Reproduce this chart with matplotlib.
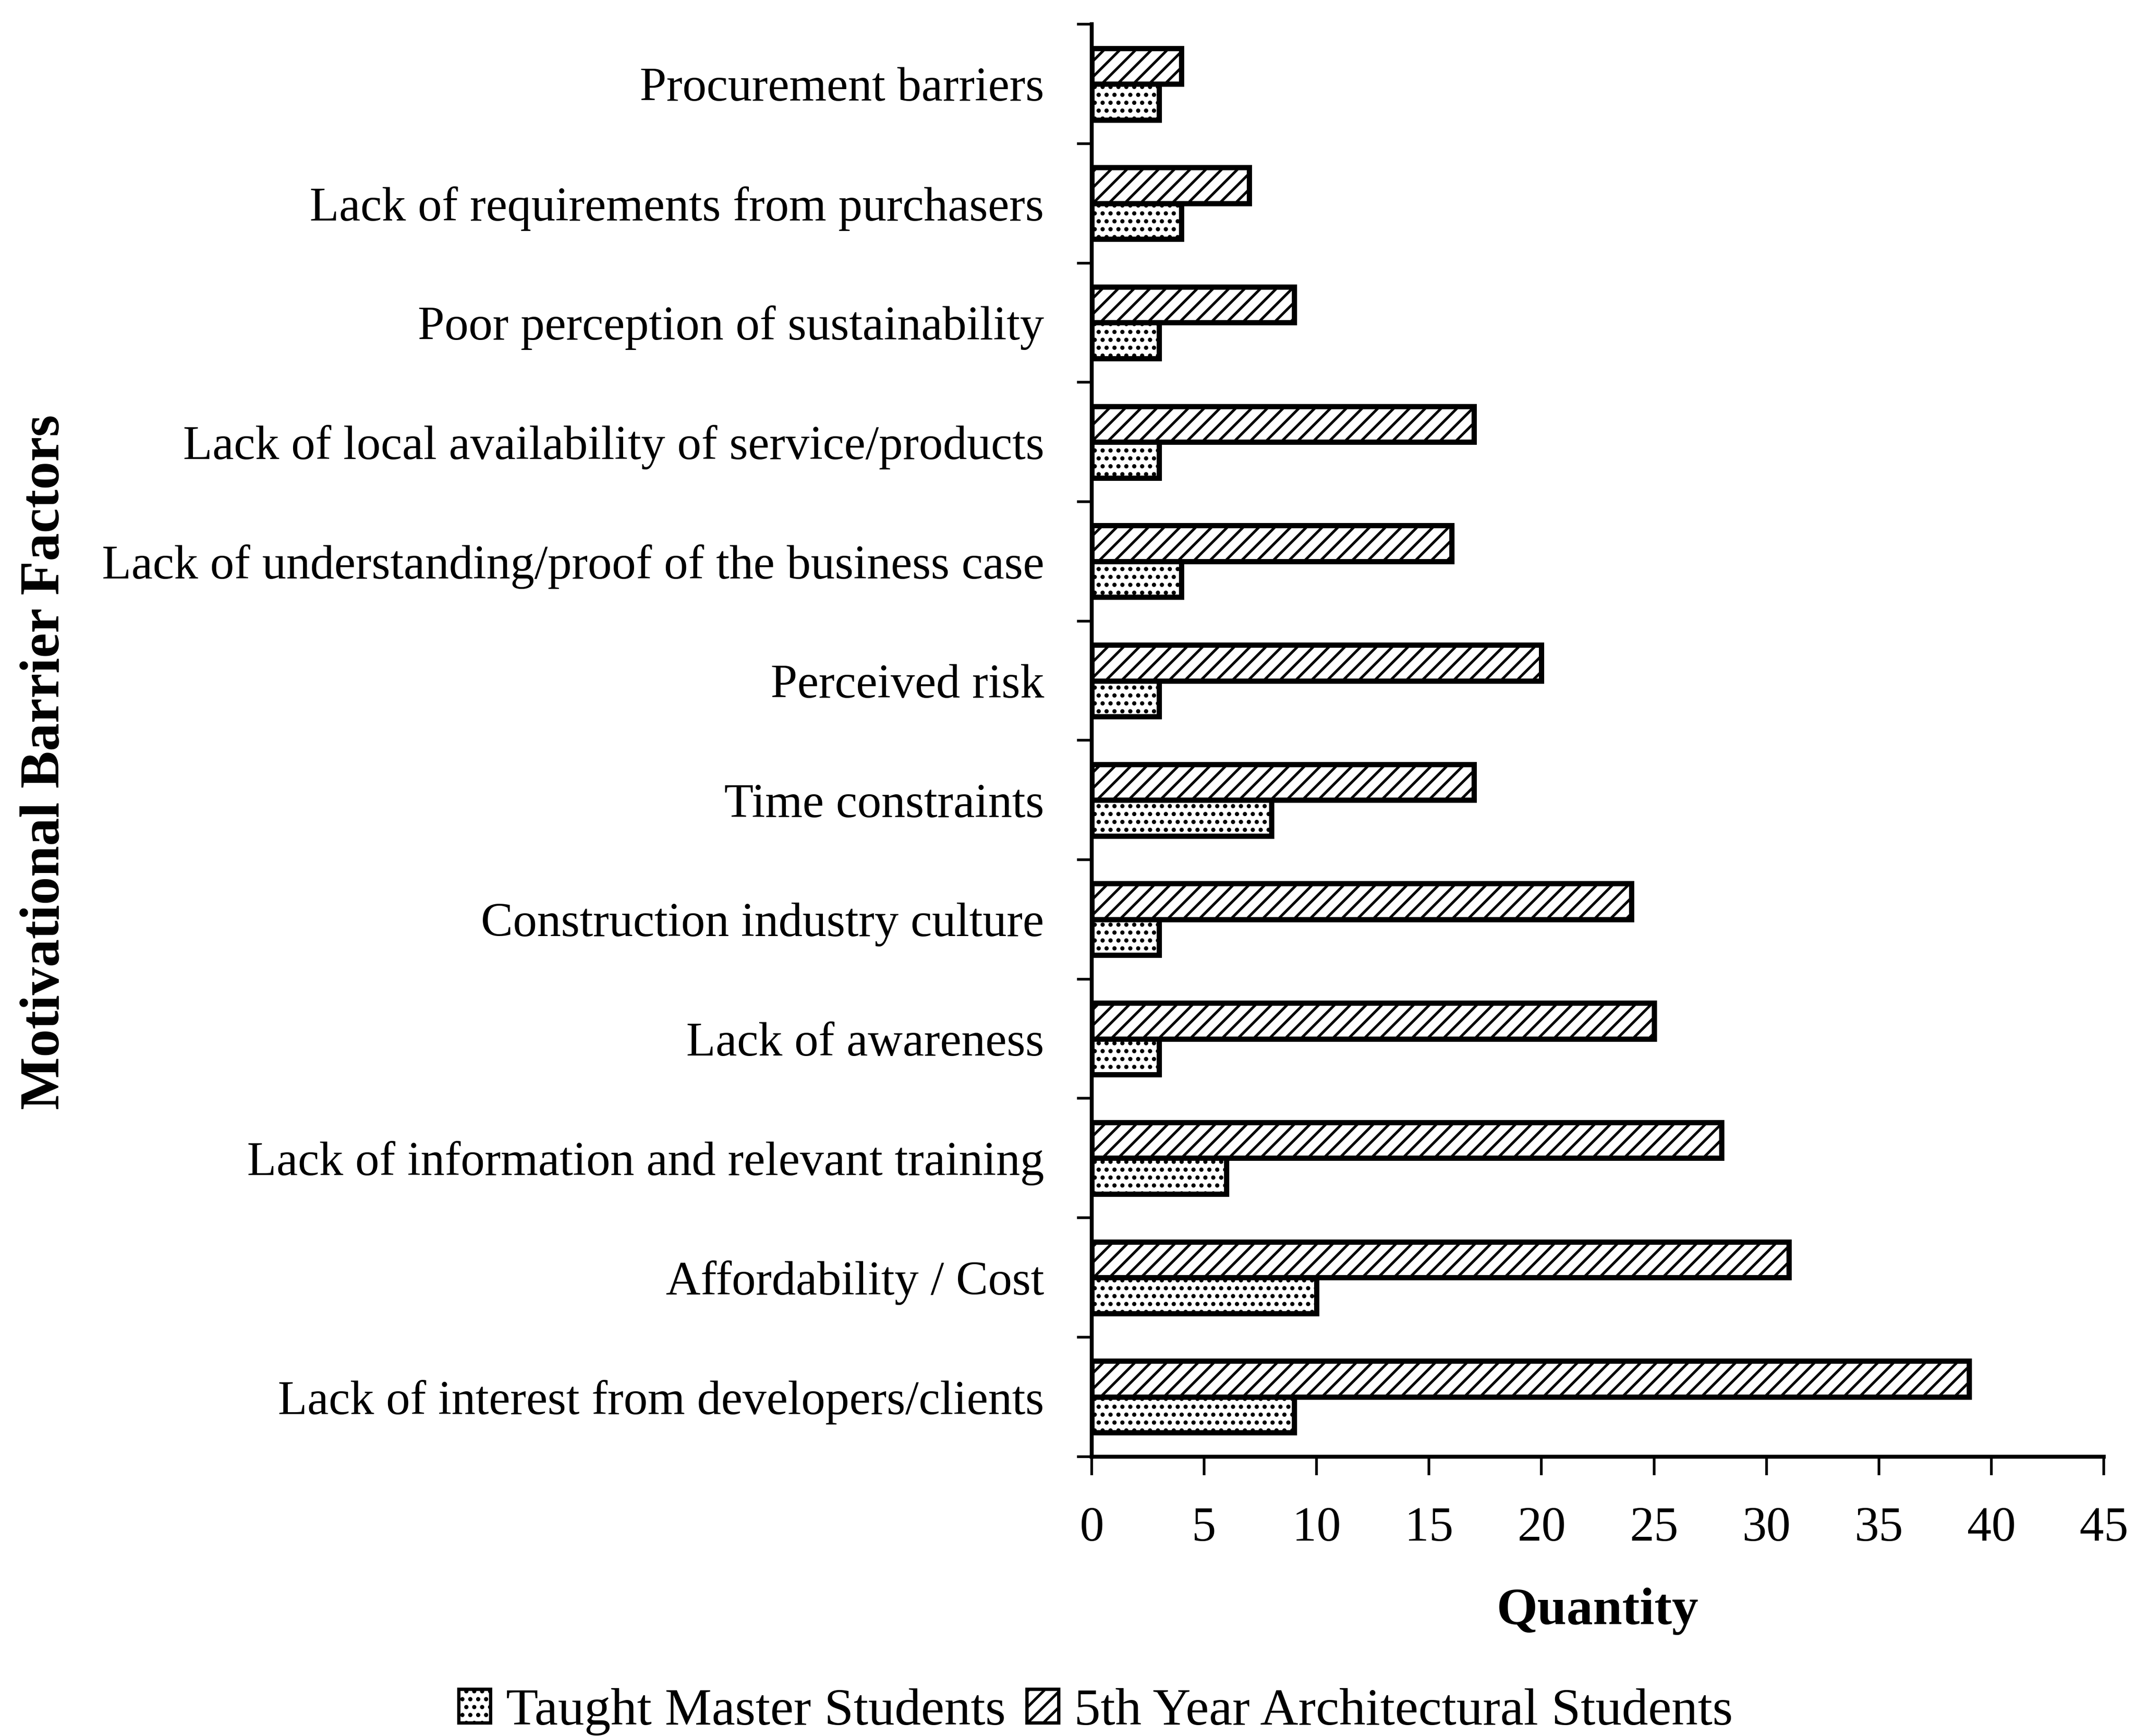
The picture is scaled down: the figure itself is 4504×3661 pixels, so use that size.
import matplotlib
matplotlib.use("Agg")
import matplotlib.pyplot as plt
import numpy as np
from matplotlib.patches import Patch

# Barrier factors, listed top to bottom as they appear on the chart
factors = [
    "Procurement barriers",
    "Lack of requirements from purchasers",
    "Poor perception of sustainability",
    "Lack of local availability of service/products",
    "Lack of understanding/proof of the business case",
    "Perceived risk",
    "Time constraints",
    "Construction industry culture",
    "Lack of awareness",
    "Lack of information and relevant training",
    "Affordability / Cost",
    "Lack of interest from developers/clients",
]
architectural_5th_year = [4, 7, 9, 17, 16, 20, 17, 24, 25, 28, 31, 39]
taught_master = [3, 4, 3, 3, 4, 3, 8, 3, 3, 6, 10, 9]
x_ticks = [0, 5, 10, 15, 20, 25, 30, 35, 40, 45]

series_labels = ["Taught Master Students", "5th Year Architectural Students"]

plt.rcParams["font.family"] = ["Liberation Serif", "DejaVu Serif"]
plt.rcParams["hatch.linewidth"] = 4.0
plt.rcParams["hatch.color"] = "black"

fig = plt.figure(figsize=(45.04, 36.61), dpi=100)
ax = fig.add_axes([0.511, 0.161, 0.474, 0.825])

y = np.arange(len(factors))
bar_h = 0.3
edge_lw = 8

ax.barh(y - bar_h / 2, architectural_5th_year, height=bar_h, color="white",
        edgecolor="black", linewidth=edge_lw, hatch="/")
ax.barh(y + bar_h / 2, taught_master, height=bar_h, color="white",
        edgecolor="black", linewidth=edge_lw, hatch=".")

ax.set_ylim(len(factors) - 0.5, -0.5)
ax.set_xlim(0, 45)

# category ticks sit between the groups; labels are centred on each group
ax.set_yticks(np.arange(-0.5, len(factors), 1.0))
ax.set_yticklabels([])
ax.set_yticks(y, minor=True)
ax.set_yticklabels(factors, minor=True, fontsize=73)
ax.tick_params(axis="y", which="minor", length=0, pad=72)
ax.tick_params(axis="y", which="major", direction="out", length=22, width=4)

ax.set_xticks(x_ticks)
ax.set_xticklabels([str(v) for v in x_ticks], fontsize=74)
ax.tick_params(axis="x", direction="out", length=28, width=4, pad=48)

for side in ("top", "right"):
    ax.spines[side].set_visible(False)
for side in ("left", "bottom"):
    ax.spines[side].set_linewidth(6)

ax.set_xlabel("Quantity", fontsize=80, fontweight="bold", labelpad=55)
fig.text(0.021, 0.561, "Motivational Barrier Factors", rotation=90,
         ha="center", va="center", fontsize=85, fontweight="bold")

handles = [
    Patch(facecolor="white", edgecolor="black", linewidth=5, hatch="."),
    Patch(facecolor="white", edgecolor="black", linewidth=5, hatch="/"),
]
fig.legend(handles, series_labels, loc="center", bbox_to_anchor=(0.513, 0.014),
           ncol=2, frameon=False, fontsize=80, handlelength=0.6,
           handleheight=0.6, handletextpad=0.3, columnspacing=0.4)

fig.savefig("out.png", dpi=100)
